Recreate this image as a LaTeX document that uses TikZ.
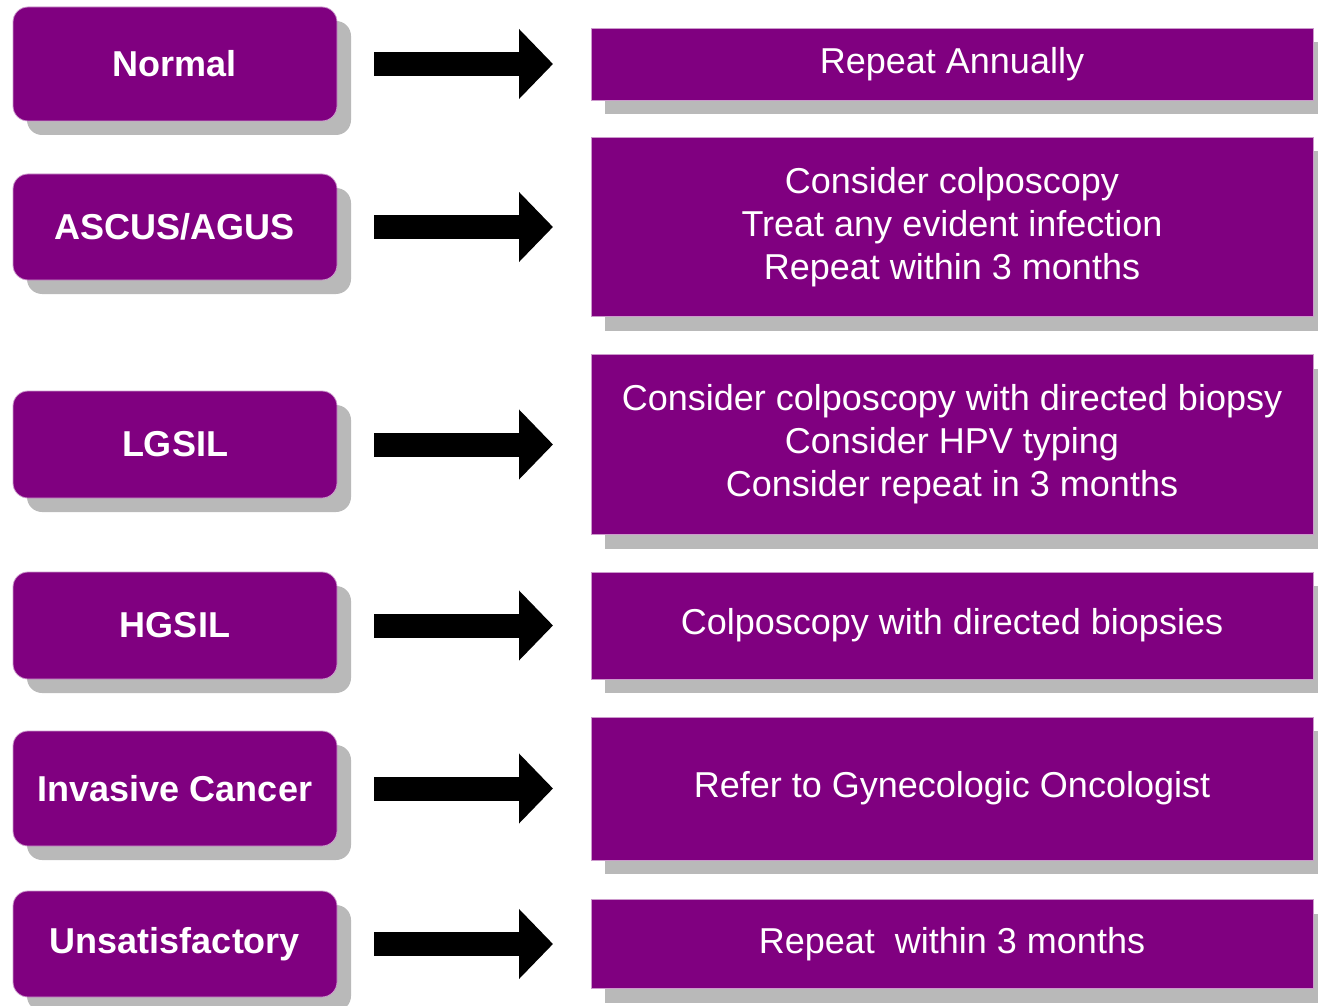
\documentclass[tikz,border=0pt]{standalone}
\usepackage{fontspec}
\setmainfont{Liberation Sans}
\usetikzlibrary{arrows.meta, positioning, shadows}
\definecolor{boxpurple}{HTML}{800080}

\begin{document}
\begin{tikzpicture}[node distance=26pt and 127pt,
    every node/.style={font=\fontsize{18}{21.5}\selectfont, text=white, outer sep=0pt},
    result/.style={draw=boxpurple!40, fill=boxpurple, rounded corners=7.5pt, minimum width=162pt, font=\fontsize{18}{21.5}\selectfont\bfseries,
      drop shadow={shadow xshift=7pt, shadow yshift=-7pt, fill=gray!55, opacity=1}},
    action/.style={draw=boxpurple!40, fill=boxpurple, minimum width=361pt, align=center,
      drop shadow={shadow xshift=7pt, shadow yshift=-7pt, fill=gray!55, opacity=1}},
    bigarrow/.style={-{Triangle[width=34pt, length=17pt]}, line width=12pt, shorten <=18.5pt, shorten >=19pt}]
    \useasboundingbox (0,0) rectangle (659pt,-503pt);

    % Results
    \node[result, minimum height=57pt] (normal) at (87.5pt,-32pt) {Normal};
    \node[result, minimum height=53pt, below=26.5pt of normal] (ascus) {ASCUS/AGUS};
    \node[result, minimum height=53.5pt, below=55.5pt of ascus] (lgsil) {LGSIL};
    \node[result, minimum height=53.5pt, below=37pt of lgsil] (hgsil) {HGSIL};
    \node[result, minimum height=57.5pt, below=26pt of hgsil] (cancer) {Invasive Cancer};
    \node[result, minimum height=53pt, below=22.5pt of cancer] (unsat) {Unsatisfactory};

    % Actions
    \node[action, minimum height=36pt, right=of normal] (annual) {Repeat Annually};
    \node[action, minimum height=89.5pt, right=of ascus] (colpo) {Consider colposcopy\\Treat any evident infection\\Repeat within 3 months};
    \node[action, minimum height=90pt, right=of lgsil] (biopsy) {Consider colposcopy with directed biopsy\\Consider HPV typing\\Consider repeat in 3 months};
    \node[action, minimum height=53.5pt, right=of hgsil] (directed) {Colposcopy with directed biopsies};
    \node[action, minimum height=71.5pt, right=of cancer] (refer) {Refer to Gynecologic Oncologist};
    \node[action, minimum height=44.5pt, right=of unsat] (repeat) {Repeat\ \ within 3 months};

    % Arrows
    \draw[bigarrow] (normal.east) -- (normal.east -| annual.west);
    \draw[bigarrow] (ascus.east) -- (ascus.east -| colpo.west);
    \draw[bigarrow] (lgsil.east) -- (lgsil.east -| biopsy.west);
    \draw[bigarrow] (hgsil.east) -- (hgsil.east -| directed.west);
    \draw[bigarrow] (cancer.east) -- (cancer.east -| refer.west);
    \draw[bigarrow] (unsat.east) -- (unsat.east -| repeat.west);
\end{tikzpicture}
\end{document}
